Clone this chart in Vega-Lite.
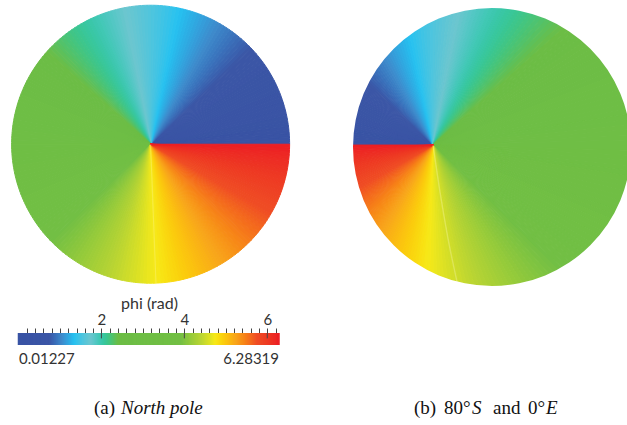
{
  "$schema": "https://vega.github.io/schema/vega-lite/v6.json",
  "padding": {"left": 9, "top": 3, "right": 0, "bottom": 0},
  "background": "white",
  "config": {"view": {"stroke": null}},
  "datasets": {
    "slices": [
      {"phi":0,"phi2":0.0262},{"phi":0.0262,"phi2":0.0524},{"phi":0.0524,"phi2":0.0785},{"phi":0.0785,"phi2":0.1047},
      {"phi":0.1047,"phi2":0.1309},{"phi":0.1309,"phi2":0.1571},{"phi":0.1571,"phi2":0.1833},{"phi":0.1833,"phi2":0.2094},
      {"phi":0.2094,"phi2":0.2356},{"phi":0.2356,"phi2":0.2618},{"phi":0.2618,"phi2":0.288},{"phi":0.288,"phi2":0.3142},
      {"phi":0.3142,"phi2":0.3403},{"phi":0.3403,"phi2":0.3665},{"phi":0.3665,"phi2":0.3927},{"phi":0.3927,"phi2":0.4189},
      {"phi":0.4189,"phi2":0.4451},{"phi":0.4451,"phi2":0.4712},{"phi":0.4712,"phi2":0.4974},{"phi":0.4974,"phi2":0.5236},
      {"phi":0.5236,"phi2":0.5498},{"phi":0.5498,"phi2":0.576},{"phi":0.576,"phi2":0.6021},{"phi":0.6021,"phi2":0.6283},
      {"phi":0.6283,"phi2":0.6545},{"phi":0.6545,"phi2":0.6807},{"phi":0.6807,"phi2":0.7069},{"phi":0.7069,"phi2":0.733},
      {"phi":0.733,"phi2":0.7592},{"phi":0.7592,"phi2":0.7854},{"phi":0.7854,"phi2":0.8116},{"phi":0.8116,"phi2":0.8378},
      {"phi":0.8378,"phi2":0.8639},{"phi":0.8639,"phi2":0.8901},{"phi":0.8901,"phi2":0.9163},{"phi":0.9163,"phi2":0.9425},
      {"phi":0.9425,"phi2":0.9687},{"phi":0.9687,"phi2":0.9948},{"phi":0.9948,"phi2":1.021},{"phi":1.021,"phi2":1.0472},
      {"phi":1.0472,"phi2":1.0734},{"phi":1.0734,"phi2":1.0996},{"phi":1.0996,"phi2":1.1257},{"phi":1.1257,"phi2":1.1519},
      {"phi":1.1519,"phi2":1.1781},{"phi":1.1781,"phi2":1.2043},{"phi":1.2043,"phi2":1.2305},{"phi":1.2305,"phi2":1.2566},
      {"phi":1.2566,"phi2":1.2828},{"phi":1.2828,"phi2":1.309},{"phi":1.309,"phi2":1.3352},{"phi":1.3352,"phi2":1.3614},
      {"phi":1.3614,"phi2":1.3875},{"phi":1.3875,"phi2":1.4137},{"phi":1.4137,"phi2":1.4399},{"phi":1.4399,"phi2":1.4661},
      {"phi":1.4661,"phi2":1.4923},{"phi":1.4923,"phi2":1.5184},{"phi":1.5184,"phi2":1.5446},{"phi":1.5446,"phi2":1.5708},
      {"phi":1.5708,"phi2":1.597},{"phi":1.597,"phi2":1.6232},{"phi":1.6232,"phi2":1.6493},{"phi":1.6493,"phi2":1.6755},
      {"phi":1.6755,"phi2":1.7017},{"phi":1.7017,"phi2":1.7279},{"phi":1.7279,"phi2":1.7541},{"phi":1.7541,"phi2":1.7802},
      {"phi":1.7802,"phi2":1.8064},{"phi":1.8064,"phi2":1.8326},{"phi":1.8326,"phi2":1.8588},{"phi":1.8588,"phi2":1.885},
      {"phi":1.885,"phi2":1.9111},{"phi":1.9111,"phi2":1.9373},{"phi":1.9373,"phi2":1.9635},{"phi":1.9635,"phi2":1.9897},
      {"phi":1.9897,"phi2":2.0159},{"phi":2.0159,"phi2":2.042},{"phi":2.042,"phi2":2.0682},{"phi":2.0682,"phi2":2.0944},
      {"phi":2.0944,"phi2":2.1206},{"phi":2.1206,"phi2":2.1468},{"phi":2.1468,"phi2":2.1729},{"phi":2.1729,"phi2":2.1991},
      {"phi":2.1991,"phi2":2.2253},{"phi":2.2253,"phi2":2.2515},{"phi":2.2515,"phi2":2.2777},{"phi":2.2777,"phi2":2.3038},
      {"phi":2.3038,"phi2":2.33},{"phi":2.33,"phi2":2.3562},{"phi":2.3562,"phi2":2.3824},{"phi":2.3824,"phi2":2.4086},
      {"phi":2.4086,"phi2":2.4347},{"phi":2.4347,"phi2":2.4609},{"phi":2.4609,"phi2":2.4871},{"phi":2.4871,"phi2":2.5133},
      {"phi":2.5133,"phi2":2.5395},{"phi":2.5395,"phi2":2.5656},{"phi":2.5656,"phi2":2.5918},{"phi":2.5918,"phi2":2.618},
      {"phi":2.618,"phi2":2.6442},{"phi":2.6442,"phi2":2.6704},{"phi":2.6704,"phi2":2.6965},{"phi":2.6965,"phi2":2.7227},
      {"phi":2.7227,"phi2":2.7489},{"phi":2.7489,"phi2":2.7751},{"phi":2.7751,"phi2":2.8013},{"phi":2.8013,"phi2":2.8274},
      {"phi":2.8274,"phi2":2.8536},{"phi":2.8536,"phi2":2.8798},{"phi":2.8798,"phi2":2.906},{"phi":2.906,"phi2":2.9322},
      {"phi":2.9322,"phi2":2.9583},{"phi":2.9583,"phi2":2.9845},{"phi":2.9845,"phi2":3.0107},{"phi":3.0107,"phi2":3.0369},
      {"phi":3.0369,"phi2":3.0631},{"phi":3.0631,"phi2":3.0892},{"phi":3.0892,"phi2":3.1154},{"phi":3.1154,"phi2":3.1416},
      {"phi":3.1416,"phi2":3.1678},{"phi":3.1678,"phi2":3.194},{"phi":3.194,"phi2":3.2201},{"phi":3.2201,"phi2":3.2463},
      {"phi":3.2463,"phi2":3.2725},{"phi":3.2725,"phi2":3.2987},{"phi":3.2987,"phi2":3.3249},{"phi":3.3249,"phi2":3.351},
      {"phi":3.351,"phi2":3.3772},{"phi":3.3772,"phi2":3.4034},{"phi":3.4034,"phi2":3.4296},{"phi":3.4296,"phi2":3.4558},
      {"phi":3.4558,"phi2":3.4819},{"phi":3.4819,"phi2":3.5081},{"phi":3.5081,"phi2":3.5343},{"phi":3.5343,"phi2":3.5605},
      {"phi":3.5605,"phi2":3.5867},{"phi":3.5867,"phi2":3.6128},{"phi":3.6128,"phi2":3.639},{"phi":3.639,"phi2":3.6652},
      {"phi":3.6652,"phi2":3.6914},{"phi":3.6914,"phi2":3.7176},{"phi":3.7176,"phi2":3.7437},{"phi":3.7437,"phi2":3.7699},
      {"phi":3.7699,"phi2":3.7961},{"phi":3.7961,"phi2":3.8223},{"phi":3.8223,"phi2":3.8485},{"phi":3.8485,"phi2":3.8746},
      {"phi":3.8746,"phi2":3.9008},{"phi":3.9008,"phi2":3.927},{"phi":3.927,"phi2":3.9532},{"phi":3.9532,"phi2":3.9794},
      {"phi":3.9794,"phi2":4.0055},{"phi":4.0055,"phi2":4.0317},{"phi":4.0317,"phi2":4.0579},{"phi":4.0579,"phi2":4.0841},
      {"phi":4.0841,"phi2":4.1103},{"phi":4.1103,"phi2":4.1364},{"phi":4.1364,"phi2":4.1626},{"phi":4.1626,"phi2":4.1888},
      {"phi":4.1888,"phi2":4.215},{"phi":4.215,"phi2":4.2412},{"phi":4.2412,"phi2":4.2673},{"phi":4.2673,"phi2":4.2935},
      {"phi":4.2935,"phi2":4.3197},{"phi":4.3197,"phi2":4.3459},{"phi":4.3459,"phi2":4.3721},{"phi":4.3721,"phi2":4.3982},
      {"phi":4.3982,"phi2":4.4244},{"phi":4.4244,"phi2":4.4506},{"phi":4.4506,"phi2":4.4768},{"phi":4.4768,"phi2":4.503},
      {"phi":4.503,"phi2":4.5291},{"phi":4.5291,"phi2":4.5553},{"phi":4.5553,"phi2":4.5815},{"phi":4.5815,"phi2":4.6077},
      {"phi":4.6077,"phi2":4.6339},{"phi":4.6339,"phi2":4.66},{"phi":4.66,"phi2":4.6862},{"phi":4.6862,"phi2":4.7124},
      {"phi":4.7124,"phi2":4.7386},{"phi":4.7386,"phi2":4.7648},{"phi":4.7648,"phi2":4.7909},{"phi":4.7909,"phi2":4.8171},
      {"phi":4.8171,"phi2":4.8433},{"phi":4.8433,"phi2":4.8695},{"phi":4.8695,"phi2":4.8957},{"phi":4.8957,"phi2":4.9218},
      {"phi":4.9218,"phi2":4.948},{"phi":4.948,"phi2":4.9742},{"phi":4.9742,"phi2":5.0004},{"phi":5.0004,"phi2":5.0265},
      {"phi":5.0265,"phi2":5.0527},{"phi":5.0527,"phi2":5.0789},{"phi":5.0789,"phi2":5.1051},{"phi":5.1051,"phi2":5.1313},
      {"phi":5.1313,"phi2":5.1574},{"phi":5.1574,"phi2":5.1836},{"phi":5.1836,"phi2":5.2098},{"phi":5.2098,"phi2":5.236},
      {"phi":5.236,"phi2":5.2622},{"phi":5.2622,"phi2":5.2883},{"phi":5.2883,"phi2":5.3145},{"phi":5.3145,"phi2":5.3407},
      {"phi":5.3407,"phi2":5.3669},{"phi":5.3669,"phi2":5.3931},{"phi":5.3931,"phi2":5.4192},{"phi":5.4192,"phi2":5.4454},
      {"phi":5.4454,"phi2":5.4716},{"phi":5.4716,"phi2":5.4978},{"phi":5.4978,"phi2":5.524},{"phi":5.524,"phi2":5.5501},
      {"phi":5.5501,"phi2":5.5763},{"phi":5.5763,"phi2":5.6025},{"phi":5.6025,"phi2":5.6287},{"phi":5.6287,"phi2":5.6549},
      {"phi":5.6549,"phi2":5.681},{"phi":5.681,"phi2":5.7072},{"phi":5.7072,"phi2":5.7334},{"phi":5.7334,"phi2":5.7596},
      {"phi":5.7596,"phi2":5.7858},{"phi":5.7858,"phi2":5.8119},{"phi":5.8119,"phi2":5.8381},{"phi":5.8381,"phi2":5.8643},
      {"phi":5.8643,"phi2":5.8905},{"phi":5.8905,"phi2":5.9167},{"phi":5.9167,"phi2":5.9428},{"phi":5.9428,"phi2":5.969},
      {"phi":5.969,"phi2":5.9952},{"phi":5.9952,"phi2":6.0214},{"phi":6.0214,"phi2":6.0476},{"phi":6.0476,"phi2":6.0737},
      {"phi":6.0737,"phi2":6.0999},{"phi":6.0999,"phi2":6.1261},{"phi":6.1261,"phi2":6.1523},{"phi":6.1523,"phi2":6.1785},
      {"phi":6.1785,"phi2":6.2046},{"phi":6.2046,"phi2":6.2308},{"phi":6.2308,"phi2":6.257},{"phi":6.257,"phi2":6.2832}
    ],
    "ends": [
      {"phi": 0.01227, "label": "0.01227", "side": "min"},
      {"phi": 6.28319, "label": "6.28319", "side": "max"}
    ],
    "majorTicks": [
      {"phi": 2}, {"phi": 4}, {"phi": 6}
    ]
  },
  "vconcat": [
    {
      "hconcat": [
        {
          "vconcat": [
            {
              "width": 278,
              "height": 278,
              "layer": [
                {
                  "data": {"name": "slices"},
                  "mark": {"type": "arc", "radius": 139, "strokeWidth": 1},
                  "encoding": {
                    "x": {"datum": -0.01, "type": "quantitative", "scale": {"domain": [-1, 1], "nice": false}, "axis": null},
                    "y": {"datum": 0.02, "type": "quantitative", "scale": {"domain": [-1, 1], "nice": false}, "axis": null},
                    "theta": {"field": "phi", "type": "quantitative", "stack": false, "scale": {"domain": [0, 6.2832], "range": [1.5708, -4.71239]}},
                    "theta2": {"field": "phi2"},
                    "color": {"field": "phi", "type": "quantitative", "legend": null,
                      "scale": {"domain": [0, 0.75, 1.05, 1.35, 1.75, 2.4, 3.9, 4.4, 4.75, 5.25, 5.75, 6.2832],
                                "range": ["#3953a4", "#3b56a6", "#3e8acb", "#27c2f0", "#6cc6cf", "#6cbd45", "#72bf44", "#b8d433", "#f7e918", "#f8a41b", "#ef4d24", "#ec1c24"]}},
                    "stroke": {"field": "phi", "type": "quantitative", "legend": null,
                      "scale": {"domain": [0, 0.75, 1.05, 1.35, 1.75, 2.4, 3.9, 4.4, 4.75, 5.25, 5.75, 6.2832],
                                "range": ["#3953a4", "#3b56a6", "#3e8acb", "#27c2f0", "#6cc6cf", "#6cbd45", "#72bf44", "#b8d433", "#f7e918", "#f8a41b", "#ef4d24", "#ec1c24"]}}
                  }
                },
                {
                  "data": {"values": [{"x": -0.01, "y": 0.02}, {"x": 0.01, "y": -0.5}, {"x": 0.029, "y": -0.99}]},
                  "mark": {"type": "line", "stroke": "#fffbc0", "strokeWidth": 1.2, "opacity": 0.25},
                  "encoding": {
                    "x": {"field": "x", "type": "quantitative"},
                    "y": {"field": "y", "type": "quantitative"}
                  }
                }
              ]
            },
            {
              "width": 272,
              "height": 12,
              "encoding": {
                "x": {"field": "phi", "type": "quantitative",
                  "scale": {"domain": [0.01227, 6.28319], "nice": false, "zero": false, "padding": 6},
                  "axis": {
                    "orient": "top",
                    "title": "phi (rad)",
                    "titleFont": "Lato", "titleFontSize": 16, "titleFontWeight": "normal", "titleColor": "#333333", "titlePadding": 1,
                    "values": [0.2, 0.4, 0.6, 0.8, 1, 1.2, 1.4, 1.6, 1.8, 2, 2.2, 2.4, 2.6, 2.8, 3, 3.2, 3.4, 3.6, 3.8, 4, 4.2, 4.4, 4.6, 4.8, 5, 5.2, 5.4, 5.6, 5.8, 6, 6.2],
                    "labelExpr": "datum.value == 2 || datum.value == 4 || datum.value == 6 ? format(datum.value, 'd') : ''",
                    "labelOverlap": false,
                    "labelFont": "Lato", "labelFontSize": 15, "labelColor": "#333333", "labelPadding": 1,
                    "domain": false, "grid": false,
                    "tickColor": "#444444", "tickWidth": 1, "tickSize": 5
                  }}
              },
              "layer": [
                {
                  "data": {"name": "slices"},
                  "mark": {"type": "rect", "clip": true, "strokeWidth": 1.5},
                  "encoding": {
                    "x2": {"field": "phi2"},
                    "color": {"field": "phi", "type": "quantitative", "legend": null,
                      "scale": {"domain": [0, 0.75, 1.05, 1.35, 1.75, 2.4, 3.9, 4.4, 4.75, 5.25, 5.75, 6.2832],
                                "range": ["#3953a4", "#3b56a6", "#3e8acb", "#27c2f0", "#6cc6cf", "#6cbd45", "#72bf44", "#b8d433", "#f7e918", "#f8a41b", "#ef4d24", "#ec1c24"]}},
                    "stroke": {"field": "phi", "type": "quantitative", "legend": null,
                      "scale": {"domain": [0, 0.75, 1.05, 1.35, 1.75, 2.4, 3.9, 4.4, 4.75, 5.25, 5.75, 6.2832],
                                "range": ["#3953a4", "#3b56a6", "#3e8acb", "#27c2f0", "#6cc6cf", "#6cbd45", "#72bf44", "#b8d433", "#f7e918", "#f8a41b", "#ef4d24", "#ec1c24"]}}
                  }
                },
                {
                  "data": {"name": "majorTicks"},
                  "mark": {"type": "rule", "color": "#444444", "strokeWidth": 1},
                  "encoding": {
                    "y": {"datum": 0.55, "type": "quantitative", "scale": {"domain": [0, 1], "nice": false}, "axis": null},
                    "y2": {"datum": 1}
                  }
                },
                {
                  "data": {"name": "ends"},
                  "transform": [{"filter": "datum.side == 'min'"}],
                  "mark": {"type": "text", "align": "left", "baseline": "top", "dy": 13, "font": "Lato", "fontSize": 15, "color": "#333333"},
                  "encoding": {"text": {"field": "label"}}
                },
                {
                  "data": {"name": "ends"},
                  "transform": [{"filter": "datum.side == 'max'"}],
                  "mark": {"type": "text", "align": "right", "baseline": "top", "dy": 13, "font": "Lato", "fontSize": 15, "color": "#333333"},
                  "encoding": {"text": {"field": "label"}}
                }
              ]
            }
          ],
          "spacing": 7
        },
        {
          "width": 278,
          "height": 278,
          "layer": [
            {
              "data": {"name": "slices"},
              "mark": {"type": "arc", "radius": 205, "strokeWidth": 1, "clip": true},
              "encoding": {
                "x": {"datum": -0.424, "type": "quantitative", "scale": {"domain": [-1, 1], "nice": false}, "axis": null},
                "y": {"datum": 0.014, "type": "quantitative", "scale": {"domain": [-1, 1], "nice": false}, "axis": null},
                "theta": {"field": "phi", "type": "quantitative", "stack": false, "scale": {"domain": [0, 6.2832], "range": [-1.5708, 4.71239]}},
                "theta2": {"field": "phi2"},
                "color": {"field": "phi", "type": "quantitative", "legend": null,
                  "scale": {"domain": [0, 0.75, 1.05, 1.35, 1.75, 2.4, 3.9, 4.4, 4.75, 5.25, 5.75, 6.2832],
                            "range": ["#3953a4", "#3b56a6", "#3e8acb", "#27c2f0", "#6cc6cf", "#6cbd45", "#72bf44", "#b8d433", "#f7e918", "#f8a41b", "#ef4d24", "#ec1c24"]}},
                "stroke": {"field": "phi", "type": "quantitative", "legend": null,
                  "scale": {"domain": [0, 0.75, 1.05, 1.35, 1.75, 2.4, 3.9, 4.4, 4.75, 5.25, 5.75, 6.2832],
                            "range": ["#3953a4", "#3b56a6", "#3e8acb", "#27c2f0", "#6cc6cf", "#6cbd45", "#72bf44", "#b8d433", "#f7e918", "#f8a41b", "#ef4d24", "#ec1c24"]}}
              }
            },
            {
              "data": {"values": [{"x": -0.424, "y": 0.014}, {"x": -0.374, "y": -0.324}, {"x": -0.317, "y": -0.655}, {"x": -0.245, "y": -1.0}]},
              "mark": {"type": "line", "interpolate": "monotone", "stroke": "#fffbc0", "strokeWidth": 1.4, "opacity": 0.3, "clip": true},
              "encoding": {
                "x": {"field": "x", "type": "quantitative"},
                "y": {"field": "y", "type": "quantitative"}
              }
            },
            {
              "data": {"values": [{"x": 0, "y": 0}]},
              "mark": {"type": "arc", "radius": 215, "radius2": 139, "theta": 0, "theta2": 6.2832, "fill": "white", "stroke": null, "clip": true},
              "encoding": {
                "x": {"field": "x", "type": "quantitative"},
                "y": {"field": "y", "type": "quantitative"}
              }
            }
          ]
        }
      ],
      "spacing": 61
    },
    {
      "hconcat": [
        {
          "width": 278,
          "height": 24,
          "data": {"values": [{"t": "(a)", "style": "upright"}, {"t": "North pole", "style": "italic"}]},
          "layer": [
            {
              "transform": [{"filter": "datum.style == 'upright'"}],
              "mark": {"type": "text", "font": "Liberation Serif", "fontSize": 19, "align": "left", "baseline": "middle", "dx": -58, "color": "#111111"},
              "encoding": {"text": {"field": "t"}}
            },
            {
              "transform": [{"filter": "datum.style == 'italic'"}],
              "mark": {"type": "text", "font": "Liberation Serif", "fontSize": 19, "fontStyle": "italic", "align": "left", "baseline": "middle", "dx": -31, "color": "#111111"},
              "encoding": {"text": {"field": "t"}}
            }
          ]
        },
        {
          "width": 278,
          "height": 24,
          "data": {"values": [{"t": "(b)", "piece": 1}, {"t": "80°", "piece": 2}, {"t": "S", "piece": 3}, {"t": "and", "piece": 4}, {"t": "0°", "piece": 5}, {"t": "E", "piece": 6}]},
          "layer": [
            {
              "transform": [{"filter": "datum.piece == 1"}],
              "mark": {"type": "text", "font": "Liberation Serif", "fontSize": 19, "align": "left", "baseline": "middle", "dx": -77, "color": "#111111"},
              "encoding": {"text": {"field": "t"}}
            },
            {
              "transform": [{"filter": "datum.piece == 2"}],
              "mark": {"type": "text", "font": "Liberation Serif", "fontSize": 19, "align": "left", "baseline": "middle", "dx": -47, "color": "#111111"},
              "encoding": {"text": {"field": "t"}}
            },
            {
              "transform": [{"filter": "datum.piece == 3"}],
              "mark": {"type": "text", "font": "Liberation Serif", "fontSize": 19, "fontStyle": "italic", "align": "left", "baseline": "middle", "dx": -19, "color": "#111111"},
              "encoding": {"text": {"field": "t"}}
            },
            {
              "transform": [{"filter": "datum.piece == 4"}],
              "mark": {"type": "text", "font": "Liberation Serif", "fontSize": 19, "align": "left", "baseline": "middle", "dx": 2, "color": "#111111"},
              "encoding": {"text": {"field": "t"}}
            },
            {
              "transform": [{"filter": "datum.piece == 5"}],
              "mark": {"type": "text", "font": "Liberation Serif", "fontSize": 19, "align": "left", "baseline": "middle", "dx": 37, "color": "#111111"},
              "encoding": {"text": {"field": "t"}}
            },
            {
              "transform": [{"filter": "datum.piece == 6"}],
              "mark": {"type": "text", "font": "Liberation Serif", "fontSize": 19, "fontStyle": "italic", "align": "left", "baseline": "middle", "dx": 55, "color": "#111111"},
              "encoding": {"text": {"field": "t"}}
            }
          ]
        }
      ],
      "spacing": 61
    }
  ],
  "spacing": 29
}
